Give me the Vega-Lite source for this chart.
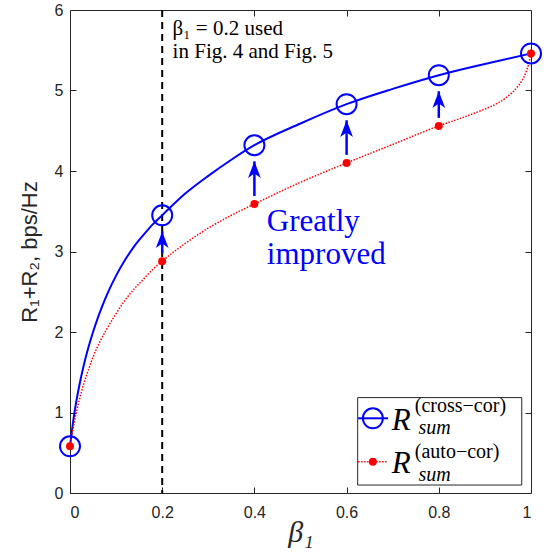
{
  "$schema": "https://vega.github.io/schema/vega-lite/v6.json",
  "width": 461,
  "height": 483,
  "autosize": "none",
  "padding": {"left": 70, "top": 10, "right": 19, "bottom": 64},
  "background": "white",
  "config": {
    "view": {"stroke": "#262626", "strokeWidth": 1},
    "axis": {"grid": false, "domain": false, "tickColor": "#262626", "tickWidth": 1, "labelColor": "#262626", "labelFont": "Liberation Sans", "labelFontSize": 16, "titleColor": "#262626", "titleFontWeight": "normal"}
  },
  "datasets": {
    "blue": [
      {"x": 0, "y": 0.58}, {"x": 0.005, "y": 0.81}, {"x": 0.01, "y": 1.01}, {"x": 0.02, "y": 1.33},
      {"x": 0.03, "y": 1.59}, {"x": 0.04, "y": 1.81}, {"x": 0.05, "y": 2.0}, {"x": 0.06, "y": 2.17},
      {"x": 0.07, "y": 2.32}, {"x": 0.08, "y": 2.46}, {"x": 0.1, "y": 2.7}, {"x": 0.12, "y": 2.9},
      {"x": 0.14, "y": 3.07}, {"x": 0.16, "y": 3.21}, {"x": 0.18, "y": 3.34}, {"x": 0.2, "y": 3.45},
      {"x": 0.25, "y": 3.72}, {"x": 0.3, "y": 3.94}, {"x": 0.35, "y": 4.14}, {"x": 0.4, "y": 4.32},
      {"x": 0.5, "y": 4.59}, {"x": 0.6, "y": 4.83}, {"x": 0.7, "y": 5.02}, {"x": 0.8, "y": 5.19},
      {"x": 0.9, "y": 5.33}, {"x": 1.0, "y": 5.46}
    ],
    "red": [
      {"x": 0, "y": 0.58}, {"x": 0.005, "y": 0.75}, {"x": 0.01, "y": 0.9}, {"x": 0.02, "y": 1.15},
      {"x": 0.03, "y": 1.36}, {"x": 0.04, "y": 1.53}, {"x": 0.05, "y": 1.69}, {"x": 0.065, "y": 1.88},
      {"x": 0.08, "y": 2.04}, {"x": 0.1, "y": 2.23}, {"x": 0.12, "y": 2.4}, {"x": 0.14, "y": 2.54},
      {"x": 0.16, "y": 2.66}, {"x": 0.18, "y": 2.78}, {"x": 0.2, "y": 2.88}, {"x": 0.25, "y": 3.1},
      {"x": 0.3, "y": 3.29}, {"x": 0.35, "y": 3.45}, {"x": 0.4, "y": 3.59}, {"x": 0.5, "y": 3.86},
      {"x": 0.6, "y": 4.1}, {"x": 0.7, "y": 4.33}, {"x": 0.8, "y": 4.56}, {"x": 0.85, "y": 4.66},
      {"x": 0.9, "y": 4.77}, {"x": 0.93, "y": 4.85}, {"x": 0.95, "y": 4.93}, {"x": 0.97, "y": 5.04},
      {"x": 0.98, "y": 5.12}, {"x": 0.99, "y": 5.24}, {"x": 0.995, "y": 5.33}, {"x": 1.0, "y": 5.46}
    ],
    "blueMarks": [
      {"x": 0, "y": 0.58}, {"x": 0.2, "y": 3.45}, {"x": 0.4, "y": 4.32}, {"x": 0.6, "y": 4.83}, {"x": 0.8, "y": 5.19}, {"x": 1, "y": 5.46}
    ],
    "redMarks": [
      {"x": 0, "y": 0.58}, {"x": 0.2, "y": 2.88}, {"x": 0.4, "y": 3.59}, {"x": 0.6, "y": 4.1}, {"x": 0.8, "y": 4.56}, {"x": 1, "y": 5.46}
    ],
    "arrows": [
      {"x": 0.2, "y": 2.98, "y2": 3.25}, {"x": 0.4, "y": 3.69, "y2": 4.12}, {"x": 0.6, "y": 4.2, "y2": 4.63}, {"x": 0.8, "y": 4.66, "y2": 4.99}
    ],
    "note": [
      {"x": 0.2226, "y": 5.689, "t": "β₁ = 0.2 used"},
      {"x": 0.2226, "y": 5.4, "t": "in Fig. 4 and Fig. 5"}
    ],
    "great": [
      {"x": 0.427, "y": 3.258, "t": "Greatly"},
      {"x": 0.427, "y": 2.845, "t": "improved"}
    ],
    "legBox": [{"x": 0.624, "x2": 0.98, "y": 0.099, "y2": 1.185}],
    "legBlueLine": [{"x": 0.625, "x2": 0.69, "y": 0.928}],
    "legBlueSym": [{"x": 0.657, "y": 0.928}],
    "legRedLine": [{"x": 0.625, "x2": 0.69, "y": 0.389}],
    "legRedSym": [{"x": 0.657, "y": 0.389}],
    "legR": [{"x": 0.698, "y": 0.783, "t": "R"}, {"x": 0.698, "y": 0.245, "t": "R"}],
    "legSub": [{"x": 0.756, "y": 0.735, "t": "sum"}, {"x": 0.756, "y": 0.155, "t": "sum"}],
    "legSup": [{"x": 0.748, "y": 1.01, "t": "(cross−cor)"}, {"x": 0.748, "y": 0.44, "t": "(auto−cor)"}],
    "vline": [{"x": 0.2}],
    "dummy": [{"x": 0, "y": 0}]
  },
  "resolve": {"axis": {"x": "independent", "y": "independent"}},
  "layer": [
    {
      "data": {"name": "dummy"},
      "mark": {"type": "point", "opacity": 0},
      "encoding": {
        "x": {"field": "x", "type": "quantitative", "scale": {"domain": [0, 1], "nice": false, "zero": false},
              "axis": {"orient": "top", "values": [0.2, 0.4, 0.6, 0.8], "labels": false, "title": null, "tickSize": -6}},
        "y": {"field": "y", "type": "quantitative", "scale": {"domain": [0, 6], "nice": false, "zero": false},
              "axis": {"orient": "right", "values": [1, 2, 3, 4, 5], "labels": false, "title": null, "tickSize": -6}}
      }
    },
    {
      "layer": [
        {
          "data": {"name": "vline"},
          "mark": {"type": "rule", "color": "black", "strokeWidth": 2, "strokeDash": [7, 5]},
          "encoding": {
            "x": {"field": "x", "type": "quantitative", "scale": {"domain": [0, 1], "nice": false, "zero": false},
                  "axis": {"orient": "bottom", "values": [0, 0.2, 0.4, 0.6, 0.8, 1], "format": "~g", "tickSize": -6, "labelPadding": 17,
                           "title": "β₁", "titleFont": "Liberation Serif", "titleFontStyle": "italic", "titleFontSize": 30, "titlePadding": -3}}
          }
        },
        {
          "data": {"name": "blue"},
          "mark": {"type": "line", "color": "#0000ff", "strokeWidth": 2, "interpolate": "monotone"},
          "encoding": {
            "x": {"field": "x", "type": "quantitative"},
            "y": {"field": "y", "type": "quantitative", "scale": {"domain": [0, 6], "nice": false, "zero": false},
                  "axis": {"orient": "left", "values": [0, 1, 2, 3, 4, 5, 6], "format": "d", "tickSize": -6, "labelPadding": 13,
                           "title": "R₁+R₂, bps/Hz", "titleFont": "Liberation Sans", "titleFontSize": 22, "titlePadding": 13}}
          }
        },
        {
          "data": {"name": "red"},
          "mark": {"type": "line", "color": "#ff0000", "strokeWidth": 1.5, "strokeDash": [1.5, 1.5], "interpolate": "monotone"},
          "encoding": {
            "x": {"field": "x", "type": "quantitative"},
            "y": {"field": "y", "type": "quantitative"}
          }
        },
        {
          "data": {"name": "arrows"},
          "mark": {"type": "rule", "color": "#0000ff", "strokeWidth": 2.5},
          "encoding": {
            "x": {"field": "x", "type": "quantitative"},
            "y": {"field": "y", "type": "quantitative"},
            "y2": {"field": "y2"}
          }
        },
        {
          "data": {"name": "arrows"},
          "mark": {"type": "point", "shape": "M0,0 L0.65,1.7 L0,1.25 L-0.65,1.7 Z", "filled": true, "color": "#0000ff", "opacity": 1, "size": 384, "strokeWidth": 0},
          "encoding": {
            "x": {"field": "x", "type": "quantitative"},
            "y": {"field": "y2", "type": "quantitative"}
          }
        },
        {
          "data": {"name": "blueMarks"},
          "mark": {"type": "point", "shape": "circle", "filled": false, "color": "#0000ff", "opacity": 1, "size": 400, "strokeWidth": 2},
          "encoding": {
            "x": {"field": "x", "type": "quantitative"},
            "y": {"field": "y", "type": "quantitative"}
          }
        },
        {
          "data": {"name": "redMarks"},
          "mark": {"type": "point", "shape": "circle", "filled": true, "color": "#ff0000", "opacity": 1, "size": 64},
          "encoding": {
            "x": {"field": "x", "type": "quantitative"},
            "y": {"field": "y", "type": "quantitative"}
          }
        },
        {
          "data": {"name": "note"},
          "mark": {"type": "text", "align": "left", "baseline": "alphabetic", "font": "Liberation Serif", "fontSize": 21, "color": "black"},
          "encoding": {
            "x": {"field": "x", "type": "quantitative"},
            "y": {"field": "y", "type": "quantitative"},
            "text": {"field": "t"}
          }
        },
        {
          "data": {"name": "great"},
          "mark": {"type": "text", "align": "left", "baseline": "alphabetic", "font": "Liberation Serif", "fontSize": 31, "color": "#0000ff"},
          "encoding": {
            "x": {"field": "x", "type": "quantitative"},
            "y": {"field": "y", "type": "quantitative"},
            "text": {"field": "t"}
          }
        },
        {
          "data": {"name": "legBox"},
          "mark": {"type": "rect", "fill": "white", "stroke": "#262626", "strokeWidth": 1},
          "encoding": {
            "x": {"field": "x", "type": "quantitative"},
            "x2": {"field": "x2"},
            "y": {"field": "y", "type": "quantitative"},
            "y2": {"field": "y2"}
          }
        },
        {
          "data": {"name": "legBlueLine"},
          "mark": {"type": "rule", "color": "#0000ff", "strokeWidth": 2},
          "encoding": {
            "x": {"field": "x", "type": "quantitative"},
            "x2": {"field": "x2"},
            "y": {"field": "y", "type": "quantitative"}
          }
        },
        {
          "data": {"name": "legBlueSym"},
          "mark": {"type": "point", "shape": "circle", "filled": false, "color": "#0000ff", "opacity": 1, "size": 400, "strokeWidth": 2},
          "encoding": {
            "x": {"field": "x", "type": "quantitative"},
            "y": {"field": "y", "type": "quantitative"}
          }
        },
        {
          "data": {"name": "legRedLine"},
          "mark": {"type": "rule", "color": "#ff0000", "strokeWidth": 1.5, "strokeDash": [1.5, 1.5]},
          "encoding": {
            "x": {"field": "x", "type": "quantitative"},
            "x2": {"field": "x2"},
            "y": {"field": "y", "type": "quantitative"}
          }
        },
        {
          "data": {"name": "legRedSym"},
          "mark": {"type": "point", "shape": "circle", "filled": true, "color": "#ff0000", "opacity": 1, "size": 64},
          "encoding": {
            "x": {"field": "x", "type": "quantitative"},
            "y": {"field": "y", "type": "quantitative"}
          }
        },
        {
          "data": {"name": "legR"},
          "mark": {"type": "text", "align": "left", "baseline": "alphabetic", "font": "Liberation Serif", "fontStyle": "italic", "fontSize": 31, "color": "black"},
          "encoding": {
            "x": {"field": "x", "type": "quantitative"},
            "y": {"field": "y", "type": "quantitative"},
            "text": {"field": "t"}
          }
        },
        {
          "data": {"name": "legSub"},
          "mark": {"type": "text", "align": "left", "baseline": "alphabetic", "font": "Liberation Serif", "fontStyle": "italic", "fontSize": 20, "color": "black"},
          "encoding": {
            "x": {"field": "x", "type": "quantitative"},
            "y": {"field": "y", "type": "quantitative"},
            "text": {"field": "t"}
          }
        },
        {
          "data": {"name": "legSup"},
          "mark": {"type": "text", "align": "left", "baseline": "alphabetic", "font": "Liberation Serif", "fontSize": 20, "color": "black"},
          "encoding": {
            "x": {"field": "x", "type": "quantitative"},
            "y": {"field": "y", "type": "quantitative"},
            "text": {"field": "t"}
          }
        }
      ]
    }
  ]
}
